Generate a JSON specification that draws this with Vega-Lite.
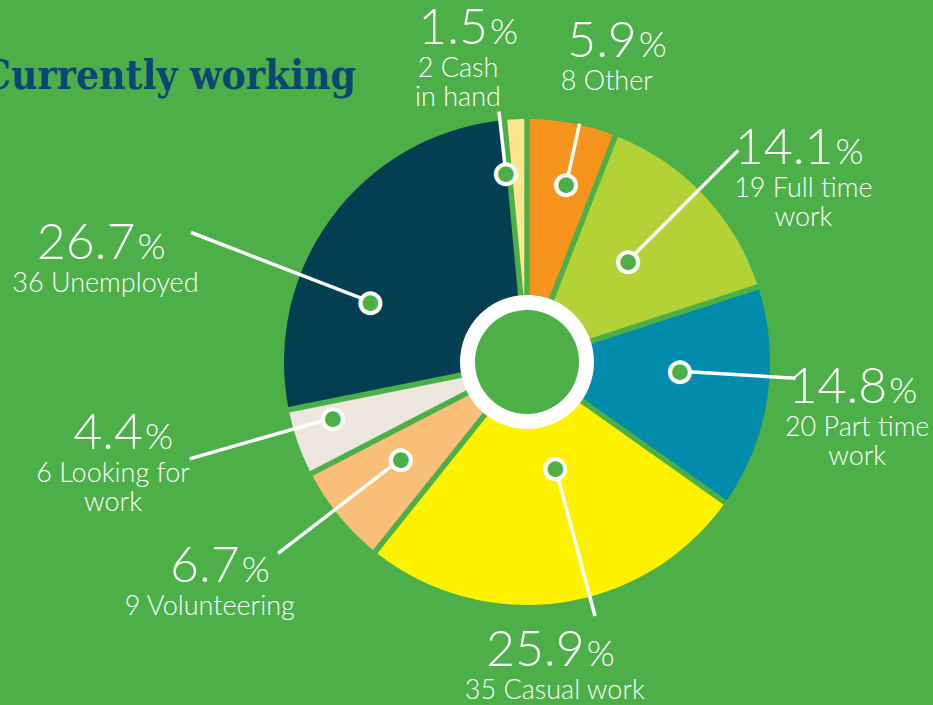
{
  "$schema": "https://vega.github.io/schema/vega-lite/v6.json",
  "width": 812,
  "height": 686,
  "autosize": {"type": "none"},
  "padding": {"left": 121, "top": 19, "right": 0, "bottom": 0},
  "background": "#4caf48",
  "config": {"view": {"stroke": null}, "font": "Lato"},
  "title": {
    "text": "Currently working",
    "anchor": "start",
    "frame": "group",
    "orient": "top",
    "offset": 0,
    "dx": -139,
    "dy": 126,
    "baseline": "alphabetic",
    "font": "DejaVu Serif Condensed, DejaVu Serif",
    "fontSize": 40.5,
    "fontWeight": "bold",
    "color": "#0c4672"
  },
  "layer": [
    {
      "data": {
        "values": [
          {"category": "Cash in hand", "count": 2, "pct": 1.5, "label": "2 Cash\nin hand"},
          {"category": "Other", "count": 8, "pct": 5.9, "label": "8 Other"},
          {"category": "Full time work", "count": 19, "pct": 14.1, "label": "19 Full time\nwork"},
          {"category": "Part time work", "count": 20, "pct": 14.8, "label": "20 Part time\nwork"},
          {"category": "Casual work", "count": 35, "pct": 25.9, "label": "35 Casual work"},
          {"category": "Volunteering", "count": 9, "pct": 6.7, "label": "9 Volunteering"},
          {"category": "Looking for work", "count": 6, "pct": 4.4, "label": "6 Looking for\nwork"},
          {"category": "Unemployed", "count": 36, "pct": 26.7, "label": "36 Unemployed"}
        ]
      },
      "transform": [{"window": [{"op": "row_number", "as": "idx"}]}],
      "encoding": {
        "theta": {
          "field": "count",
          "type": "quantitative",
          "stack": true,
          "scale": {"domain": [0, 135], "range": [-0.0931, 6.1901], "zero": true, "nice": false}
        },
        "order": {"field": "idx", "type": "quantitative"}
      },
      "layer": [
        {
          "mark": {"type": "arc", "radius": 243, "radius2": 60, "padAngle": 0.022},
          "encoding": {
            "color": {
              "field": "category",
              "type": "nominal",
              "legend": null,
              "scale": {
                "domain": ["Cash in hand", "Other", "Full time work", "Part time work", "Casual work", "Volunteering", "Looking for work", "Unemployed"],
                "range": ["#fde58c", "#f7941d", "#b2d235", "#008caa", "#fff200", "#f9be78", "#ece6df", "#033e52"]
              }
            }
          }
        },
        {
          "mark": {
            "type": "arc",
            "filled": false,
            "stroke": "white",
            "strokeWidth": 3.5,
            "strokeCap": "round",
            "padAngle": 3.1,
            "radius": {"expr": "{'Cash in hand': 252, 'Other': 244, 'Full time work': 299, 'Part time work': 269, 'Casual work': 263, 'Volunteering': 314, 'Looking for work': 351, 'Unemployed': 360}[datum.category]"},
            "radius2": {"expr": "{'Cash in hand': 190, 'Other': 182, 'Full time work': 143, 'Part time work': 153, 'Casual work': 110, 'Volunteering': 159, 'Looking for work': 202, 'Unemployed': 168}[datum.category]"},
            "thetaOffset": {"expr": "{'Cash in hand': -0.065, 'Other': 0.031, 'Full time work': -0.03, 'Part time work': -0.091, 'Casual work': -0.122, 'Volunteering': 0.031, 'Looking for work': 0.058, 'Unemployed': -0.272}[datum.category]"},
            "theta2Offset": {"expr": "{'Cash in hand': -0.065, 'Other': 0.031, 'Full time work': -0.03, 'Part time work': -0.091, 'Casual work': -0.122, 'Volunteering': 0.031, 'Looking for work': 0.058, 'Unemployed': -0.272}[datum.category]"}
          }
        },
        {
          "mark": {
            "type": "text",
            "text": "●",
            "font": "DejaVu Sans",
            "fontSize": 26,
            "fill": "#4caf48",
            "stroke": "white",
            "strokeWidth": 4,
            "align": "center",
            "baseline": "middle",
            "radius": {"expr": "{'Cash in hand': 190, 'Other': 182, 'Full time work': 143, 'Part time work': 153, 'Casual work': 110, 'Volunteering': 159, 'Looking for work': 202, 'Unemployed': 168}[datum.category]"},
            "thetaOffset": {"expr": "{'Cash in hand': -0.065, 'Other': 0.031, 'Full time work': -0.03, 'Part time work': -0.091, 'Casual work': -0.122, 'Volunteering': 0.031, 'Looking for work': 0.058, 'Unemployed': -0.272}[datum.category]"}
          }
        },
        {
          "mark": {
            "type": "text",
            "align": "right",
            "baseline": "alphabetic",
            "dx": 30,
            "dy": -9,
            "fontSize": 50,
            "fontWeight": 300,
            "color": "white",
            "radius": {"expr": "{'Cash in hand': 317, 'Other': 307, 'Full time work': 335, 'Part time work': 334, 'Casual work': 314, 'Volunteering': 391, 'Looking for work': 425, 'Unemployed': 432}[datum.category]"},
            "thetaOffset": {"expr": "{'Cash in hand': -0.173, 'Other': 0.077, 'Full time work': 0.156, 'Part time work': 0, 'Casual work': 0.051, 'Volunteering': 0.062, 'Looking for work': 0.109, 'Unemployed': -0.42}[datum.category]"}
          },
          "encoding": {"text": {"field": "pct", "type": "quantitative", "format": ".1f"}}
        },
        {
          "mark": {
            "type": "text",
            "text": "%",
            "align": "left",
            "baseline": "alphabetic",
            "dx": 32,
            "dy": -9,
            "fontSize": 36,
            "fontWeight": 300,
            "color": "white",
            "radius": {"expr": "{'Cash in hand': 317, 'Other': 307, 'Full time work': 335, 'Part time work': 334, 'Casual work': 314, 'Volunteering': 391, 'Looking for work': 425, 'Unemployed': 432}[datum.category]"},
            "thetaOffset": {"expr": "{'Cash in hand': -0.173, 'Other': 0.077, 'Full time work': 0.156, 'Part time work': 0, 'Casual work': 0.051, 'Volunteering': 0.062, 'Looking for work': 0.109, 'Unemployed': -0.42}[datum.category]"}
          }
        },
        {
          "mark": {
            "type": "text",
            "align": "center",
            "baseline": "alphabetic",
            "dy": 24,
            "fontSize": 27,
            "lineHeight": 29,
            "lineBreak": "\n",
            "fontWeight": 300,
            "color": "white",
            "radius": {"expr": "{'Cash in hand': 317, 'Other': 307, 'Full time work': 335, 'Part time work': 334, 'Casual work': 314, 'Volunteering': 391, 'Looking for work': 425, 'Unemployed': 432}[datum.category]"},
            "thetaOffset": {"expr": "{'Cash in hand': -0.173, 'Other': 0.077, 'Full time work': 0.156, 'Part time work': 0, 'Casual work': 0.051, 'Volunteering': 0.062, 'Looking for work': 0.109, 'Unemployed': -0.42}[datum.category]"}
          },
          "encoding": {"text": {"field": "label", "type": "nominal"}}
        }
      ]
    },
    {
      "data": {"values": [{"part": "centre ring"}]},
      "mark": {"type": "arc", "theta": 0, "theta2": 6.2832, "radius": 67, "radius2": 52, "fill": "white"},
      "encoding": {}
    }
  ]
}
